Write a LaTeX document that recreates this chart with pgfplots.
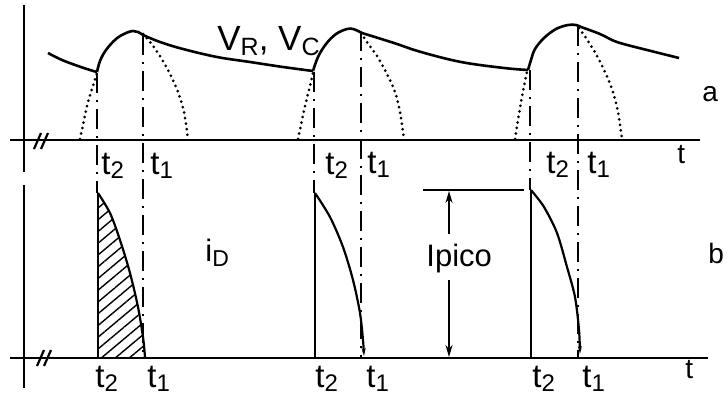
\documentclass[border=0pt]{standalone}
\usepackage{pgfplots}
\pgfplotsset{compat=1.18}
\usepackage{fontspec}
\setmainfont{Liberation Sans}
\usetikzlibrary{arrows.meta,patterns.meta}

% t with a lowered subscript, as in the figure
\newcommand{\tlab}[1]{\fontsize{16.5}{18}\selectfont t\raisebox{-2pt}{\fontsize{12}{12}\selectfont #1}}
\newcommand{\low}[2]{\raisebox{-2.5pt}{\fontsize{#1}{#1}\selectfont #2}}

\tikzset{
  dashdot/.style={line width=0.8pt, dash pattern=on 10pt off 3.5pt on 1pt off 3.5pt},
  dots/.style={line width=1.5pt, line cap=round, dash pattern=on 0pt off 2.8pt},
  wave/.style={line width=1.3pt, smooth, tension=0.6},
  lab/.style={anchor=base west, inner sep=0pt},
}

\begin{document}
\begin{tikzpicture}
\begin{axis}[
  hide axis, scale only axis, width=364pt, height=198pt,
  xmin=0, xmax=728, ymin=0, ymax=396, y dir=reverse,
  clip=false,
  every axis plot/.append style={black, line width=1.1pt},
]
% page frame
\addplot[draw=none] coordinates {(0,0) (728,396)};

% axes
\addplot[] coordinates {(10,140) (700,140)};
\addplot[] coordinates {(10,358) (708,358)};
\addplot[] coordinates {(24,5) (24,172)};
\addplot[] coordinates {(24,185) (24,388)};
\addplot[] coordinates {(34,149) (41,133)};
\addplot[] coordinates {(41,149) (48,133)};
\addplot[] coordinates {(37,366) (44,350)};
\addplot[] coordinates {(44,366) (51,350)};

% V_R, V_C
\addplot[wave] coordinates {(48,53) (62,60) (78,66) (90,70) (97,72)};
\addplot[wave] coordinates {(97,72) (100,61) (106,50) (116,39) (126,33) (133,31) (138,32) (143,35)};
\addplot[wave] coordinates {(143,35) (160,42) (183,49) (217,57) (250,62) (283,67) (313,71)};
\addplot[wave] coordinates {(313,71) (318,57) (326,44) (336,34) (347,29) (353,29) (358,31) (362,33)};
\addplot[wave] coordinates {(362,33) (394,43) (421,52) (461,62) (504,68) (528,70)};
\addplot[wave] coordinates {(528,70) (531,60) (535,49) (544,38) (556,29) (568,25) (576,25) (581,27)};
\addplot[wave] coordinates {(581,27) (600,34) (617,42) (647,50) (679,58)};

% source sine, dotted
\addplot[dots, smooth] coordinates {(80,139) (84,120) (88,102) (93,86) (97,73)};
\addplot[dots, smooth] coordinates {(143,34) (150,42) (160,56) (170,74) (178,92) (184,112) (188,139)};
\addplot[dots, smooth] coordinates {(298,139) (302,120) (306,102) (310,86) (313,73)};
\addplot[dots, smooth] coordinates {(361,33) (367,42) (377,56) (387,74) (395,92) (400,112) (404,139)};
\addplot[dots, smooth] coordinates {(515,139) (518,120) (521,102) (524,86) (527,72)};
\addplot[dots, smooth] coordinates {(579,28) (586,38) (596,54) (606,74) (613,92) (618,112) (622,139)};

% t2 / t1 markers
\addplot[dashdot] coordinates {(97,73) (97,193)};
\addplot[dashdot] coordinates {(143,35) (143,358)};
\addplot[dashdot] coordinates {(314,72) (314,193)};
\addplot[dashdot] coordinates {(361,31) (361,358)};
\addplot[dashdot] coordinates {(530,70) (530,190)};
\addplot[dashdot] coordinates {(578,26) (578,358)};

% diode current pulses
\addplot[draw=none, pattern={Lines[angle=40,distance=4.5pt,line width=0.7pt]}]
  coordinates {(98,358) (98,193) (110,213) (120,240) (130,273) (138,307) (143,337) (145,357) (145,358)};
\addplot[] coordinates {(98,358) (98,193)};
\addplot[smooth] coordinates {(98,193) (110,213) (120,240) (130,273) (138,307) (143,337) (145,357)};
\addplot[] coordinates {(315,358) (315,193)};
\addplot[smooth, -{Stealth[length=4pt,width=2pt]}] coordinates {(315,193) (330,217) (343,247) (353,280) (360,313) (363,340) (364,356)};
\addplot[] coordinates {(531,358) (531,190)};
\addplot[smooth, -{Stealth[length=4pt,width=2pt]}] coordinates {(531,190) (544,207) (557,233) (567,267) (575,297) (579,330) (580,354)};

% Ipico dimension
\addplot[line width=0.9pt] coordinates {(423,190) (524,190)};
\addplot[line width=0.9pt, -{Stealth[length=6pt,width=3.5pt]}] coordinates {(449,234) (449,191)};
\addplot[line width=0.9pt, -{Stealth[length=6pt,width=3.5pt]}] coordinates {(449,280) (449,357)};

% labels
\node[lab] at (axis cs:217,50) {\fontsize{17.5}{19}\selectfont V\low{12.5}{R}, V\low{12.5}{C}};
\node[lab] at (axis cs:205,261) {\fontsize{15.5}{17}\selectfont i\low{11.5}{D}};
\node[lab] at (axis cs:426,266) {\fontsize{15.5}{17}\selectfont Ipico};
\node[lab] at (axis cs:702,101) {\fontsize{14}{15}\selectfont a};
\node[lab] at (axis cs:708,263) {\fontsize{14}{15}\selectfont b};
\node[lab] at (axis cs:677,163) {\fontsize{14}{15}\selectfont t};
\node[lab] at (axis cs:685,378) {\fontsize{14}{15}\selectfont t};

\node[lab] at (axis cs:101,174) {\tlab{2}};
\node[lab] at (axis cs:150,174) {\tlab{1}};
\node[lab] at (axis cs:325,174) {\tlab{2}};
\node[lab] at (axis cs:367,173) {\tlab{1}};
\node[lab] at (axis cs:546,173) {\tlab{2}};
\node[lab] at (axis cs:587,173) {\tlab{1}};

\node[lab] at (axis cs:95,387) {\tlab{2}};
\node[lab] at (axis cs:147,387) {\tlab{1}};
\node[lab] at (axis cs:315,387) {\tlab{2}};
\node[lab] at (axis cs:366,387) {\tlab{1}};
\node[lab] at (axis cs:532,387) {\tlab{2}};
\node[lab] at (axis cs:582,387) {\tlab{1}};
\end{axis}
\end{tikzpicture}
\end{document}
